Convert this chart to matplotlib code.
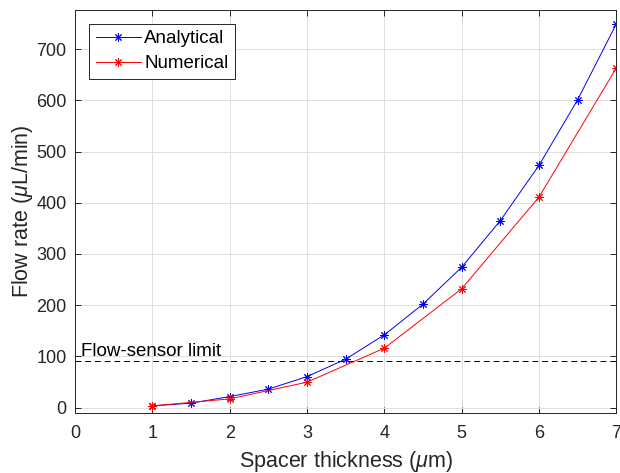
import numpy as np
import matplotlib
matplotlib.use("Agg")
import matplotlib.pyplot as plt

plt.rcParams['font.family'] = ['Liberation Sans', 'DejaVu Sans']
plt.rcParams['mathtext.fontset'] = 'custom'
plt.rcParams['mathtext.it'] = 'Liberation Sans:italic'
plt.rcParams['mathtext.rm'] = 'Liberation Sans'

# analytical model, every 0.5 um
t_ana = [1, 1.5, 2, 2.5, 3, 3.5, 4, 4.5, 5, 5.5, 6, 6.5, 7]
q_ana = [3.3, 8.6, 21.5, 36, 60.5, 94.5, 142, 202, 274, 365, 473, 601, 749]

# numerical simulation, every 1 um
t_num = [1, 2, 3, 4, 5, 6, 7]
q_num = [3.3, 17, 49.6, 116, 232, 411, 663]

sensor_limit = 91

fig = plt.figure(figsize=(6.2, 4.73), dpi=100)
ax = fig.add_axes([0.121, 0.1275, 0.873, 0.852])

star = (8, 2, 0)
ax.plot(t_ana, q_ana, color=(0, 0, 1), lw=0.7, marker=star, ms=6, mew=0.7,
        label='Analytical')
ax.plot(t_num, q_num, color=(1, 0, 0), lw=0.7, marker=star, ms=6, mew=0.7,
        label='Numerical')
ax.axhline(sensor_limit, color='k', lw=0.7, ls=(0, (6, 4)))
ax.text(0.08, sensor_limit + 1, 'Flow-sensor limit', fontsize=13.5, va='bottom')

ax.set_xlim(0, 7)
ax.set_ylim(-10, 777)
ax.set_xticks(range(0, 8))
ax.set_yticks(range(0, 701, 100))
ax.grid(True, color=(0.87, 0.87, 0.87), lw=0.7)
ax.set_axisbelow(True)
for s in ax.spines.values():
    s.set_color((0.15, 0.15, 0.15))
    s.set_linewidth(0.7)
ax.tick_params(direction='in', length=4, width=0.7, labelsize=13, pad=6,
               colors=(0.15, 0.15, 0.15), top=True, right=True)
ax.tick_params(axis='x', pad=9)
for lab in ax.get_xticklabels() + ax.get_yticklabels():
    lab.set_color((0.15, 0.15, 0.15))

ax.set_xlabel(r'Spacer thickness ($\mu$m)', fontsize=15.5, color=(0.15, 0.15, 0.15), labelpad=5)
ax.set_ylabel(r'Flow rate ($\mu$L/min)', fontsize=15.5, color=(0.15, 0.15, 0.15), labelpad=1)

leg = ax.legend(loc='upper left', fontsize=13.5, fancybox=False, framealpha=1,
                edgecolor=(0.15, 0.15, 0.15), borderpad=0.35, handlelength=2.4,
                handletextpad=0.2, labelspacing=0.4, borderaxespad=0,
                bbox_to_anchor=(0.026, 0.965))
leg.get_frame().set_linewidth(0.7)

fig.savefig('out.png', dpi=100)
